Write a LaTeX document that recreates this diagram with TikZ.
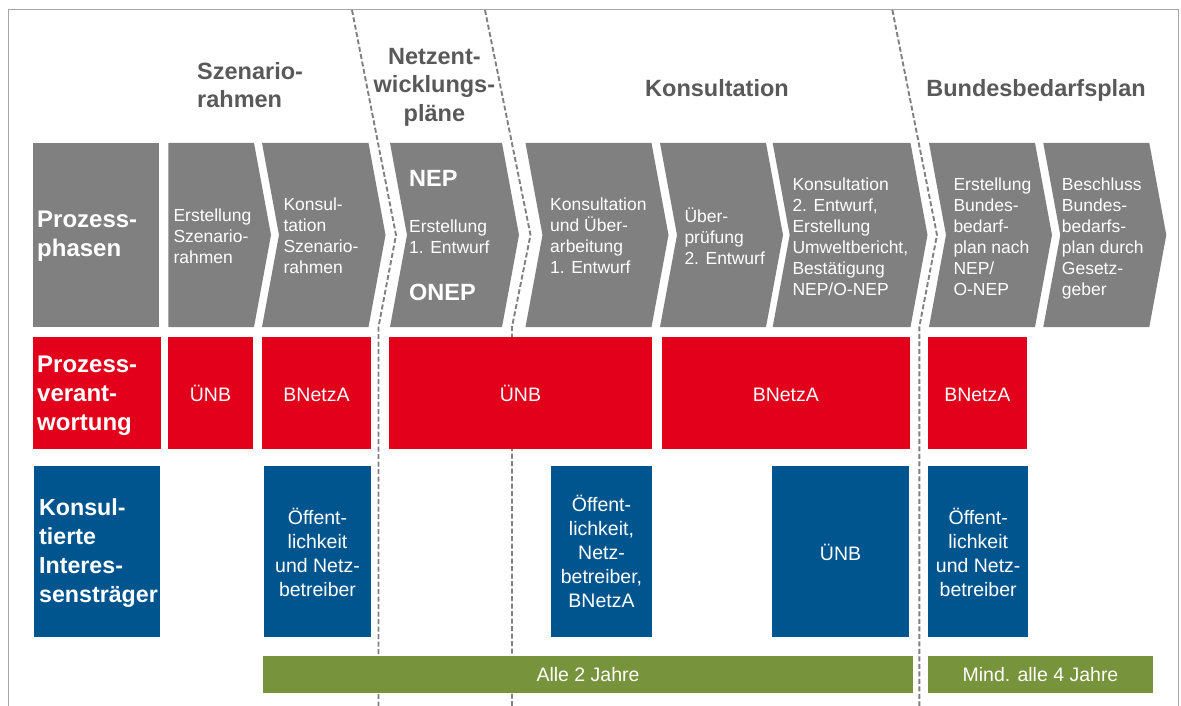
\documentclass[tikz,border=0pt]{standalone}
\usepackage{fontspec}
\setmainfont{Liberation Sans}
\definecolor{chevgray}{HTML}{808080}
\definecolor{dbred}{HTML}{E2001A}
\definecolor{dbblue}{HTML}{00558F}
\definecolor{olive}{HTML}{77933C}
\definecolor{headgray}{HTML}{595959}
\definecolor{dashgray}{HTML}{808080}
\definecolor{framegray}{HTML}{A6A6A6}
\tikzset{
  chev/.style={fill=chevgray, draw=none},
  redbox/.style={fill=dbred, draw=none},
  bluebox/.style={fill=dbblue, draw=none},
  greenbox/.style={fill=olive, draw=none},
  chevtxt/.style={text=white, font=\fontsize{17.5}{21}\selectfont, align=left, anchor=west, inner sep=0pt},
  chevbold/.style={text=white, font=\bfseries\fontsize{23.5}{28}\selectfont, anchor=base west, inner sep=0pt},
  rowlbl/.style={text=white, font=\bfseries\fontsize{24}{29}\selectfont, align=left, anchor=west, inner sep=0pt},
  boxtxt/.style={text=white, font=\fontsize{19.5}{24}\selectfont, align=center, inner sep=0pt},
  head/.style={text=headgray, font=\bfseries\fontsize{23.5}{28.5}\selectfont, inner sep=0pt},
  divider/.style={draw=dashgray, line width=1.9pt, dash pattern=on 5pt off 2.5pt},
  frameline/.style={draw=framegray, line width=1.4pt}
}
\begin{document}
\begin{tikzpicture}[x=1pt,y=-1pt]
\useasboundingbox (0,0) rectangle (1181,706);
\fill[white] (0,0) rectangle (1181,706);

% frame
\coordinate (fbl) at (8.3,706);
\coordinate (ftl) at (8.3,9.5);
\coordinate (ftr) at (1178.5,9.5);
\coordinate (fbr) at (1178.5,706);
\draw[frameline] (fbl) -- (ftl) -- (ftr) -- (fbr);

% dashed dividers
\coordinate (d1a) at (352,10);
\coordinate (d1b) at (396,235);
\coordinate (d1c) at (378.5,327);
\coordinate (d1d) at (378.5,706);
\draw[divider] (d1a) -- (d1b) -- (d1c) -- (d1d);
\coordinate (d2a) at (485,10);
\coordinate (d2b) at (530.5,235);
\coordinate (d2c) at (512,327);
\coordinate (d2d) at (512,706);
\draw[divider] (d2a) -- (d2b) -- (d2c) -- (d2d);
\coordinate (d3a) at (892.4,10);
\coordinate (d3b) at (937,235);
\coordinate (d3c) at (919.3,327);
\coordinate (d3d) at (919.3,706);
\draw[divider] (d3a) -- (d3b) -- (d3c) -- (d3d);

% headers
\node[head, align=left, anchor=west] (hSz) at (197,85) {Szenario-\\rahmen};
\node[head, align=center] (hNetz) at (434.4,87) {Netzent-\\wicklungs-\\pläne};
\node[head, anchor=base] (hKons) at (717,97) {Konsultation};
\node[head, anchor=base] (hBund) at (1036,97) {Bundesbedarfsplan};

% chevrons
\fill[chev] (32.5,143) rectangle (159,327);
\fill[chev] (168.3,143) -- (254,143) -- (271,235) -- (254,327) -- (168.3,327) -- cycle;
\fill[chev] (262,143) -- (368.5,143) -- (385.5,235) -- (368.5,327) -- (262,327) -- (279,235) -- cycle;
\fill[chev] (390,143) -- (502,143) -- (519,235) -- (502,327) -- (390,327) -- (407,235) -- cycle;
\fill[chev] (525.5,143) -- (651.5,143) -- (668.5,235) -- (651.5,327) -- (525.5,327) -- (542.5,235) -- cycle;
\fill[chev] (660,143) -- (766,143) -- (783,235) -- (766,327) -- (660,327) -- (677,235) -- cycle;
\fill[chev] (772.7,143) -- (910.5,143) -- (927.5,235) -- (910.5,327) -- (772.7,327) -- (789.7,235) -- cycle;
\fill[chev] (929,143) -- (1035,143) -- (1052,235) -- (1035,327) -- (929,327) -- (946,235) -- cycle;
\fill[chev] (1043.3,143) -- (1149.3,143) -- (1166.3,235) -- (1149.3,327) -- (1043.3,327) -- (1060.3,235) -- cycle;

% chevron texts
\node[rowlbl] (lPhasen) at (37,236) {Prozess-\\phasen};
\node[chevtxt] (c1) at (173.3,236) {Erstellung\\Szenario-\\rahmen};
\node[chevtxt] (c2) at (283.3,236) {Konsul-\\tation\\Szenario-\\rahmen};
\node[chevbold] (cNEP) at (409,186.5) {NEP};
\node[chevtxt] (c3) at (409,237) {Erstellung\\1. Entwurf};
\node[chevbold] (cONEP) at (409,300) {ONEP};
\node[chevtxt] (c4) at (550,236) {Konsultation\\und Über-\\arbeitung\\1. Entwurf};
\node[chevtxt] (c5) at (684.3,236) {Über-\\prüfung\\2. Entwurf};
\node[chevtxt] (c6) at (792.3,236.5) {Konsultation\\2. Entwurf,\\Erstellung\\Umweltbericht,\\Bestätigung\\NEP/O-NEP};
\node[chevtxt] (c7) at (953.3,236.5) {Erstellung\\Bundes-\\bedarf-\\plan nach\\NEP/\\O-NEP};
\node[chevtxt] (c8) at (1061.7,238) {Beschluss\\Bundes-\\bedarfs-\\plan durch\\Gesetz-\\geber};

% red row
\fill[redbox] (33,337) rectangle (160.7,449);
\fill[redbox] (168.4,337) rectangle (252.6,449);
\fill[redbox] (262,337) rectangle (371,449);
\fill[redbox] (389,337) rectangle (652,449);
\fill[redbox] (662,337) rectangle (909.6,449);
\fill[redbox] (928,337) rectangle (1026.5,449);
\node[rowlbl] (lVerant) at (37,396) {Prozess-\\verant-\\wortung};
\node[boxtxt, anchor=base] (r1) at (210.5,401) {ÜNB};
\node[boxtxt, anchor=base] (r2) at (316.5,401) {BNetzA};
\node[boxtxt, anchor=base] (r3) at (520.5,401) {ÜNB};
\node[boxtxt, anchor=base] (r4) at (785.8,401) {BNetzA};
\node[boxtxt, anchor=base] (r5) at (977.3,401) {BNetzA};

% blue row
\fill[bluebox] (34,466) rectangle (160,637);
\fill[bluebox] (264,466) rectangle (371,637);
\fill[bluebox] (551,466) rectangle (652,637);
\fill[bluebox] (772,466) rectangle (909,637);
\fill[bluebox] (928,466) rectangle (1028.4,637);
\node[rowlbl, font=\bfseries\fontsize{23.2}{28.7}\selectfont] (lKons) at (39,553) {Konsul-\\tierte\\Interes-\\sensträger};
\node[boxtxt] (b1) at (317.5,552) {Öffent-\\lichkeit\\und Netz-\\betreiber};
\node[boxtxt] (b2) at (601.5,551) {Öffent-\\lichkeit,\\Netz-\\betreiber,\\BNetzA};
\node[boxtxt, anchor=base] (b3) at (840.5,560) {ÜNB};
\node[boxtxt] (b4) at (978.2,552) {Öffent-\\lichkeit\\und Netz-\\betreiber};

% green row
\fill[greenbox] (263,656) rectangle (912.7,693);
\fill[greenbox] (928,656) rectangle (1153,693);
\node[boxtxt, anchor=base] (g1) at (588,681.5) {Alle 2 Jahre};
\node[boxtxt, anchor=base] (g2) at (1040.5,681.5) {Mind. alle 4 Jahre};
\end{tikzpicture}
\end{document}
